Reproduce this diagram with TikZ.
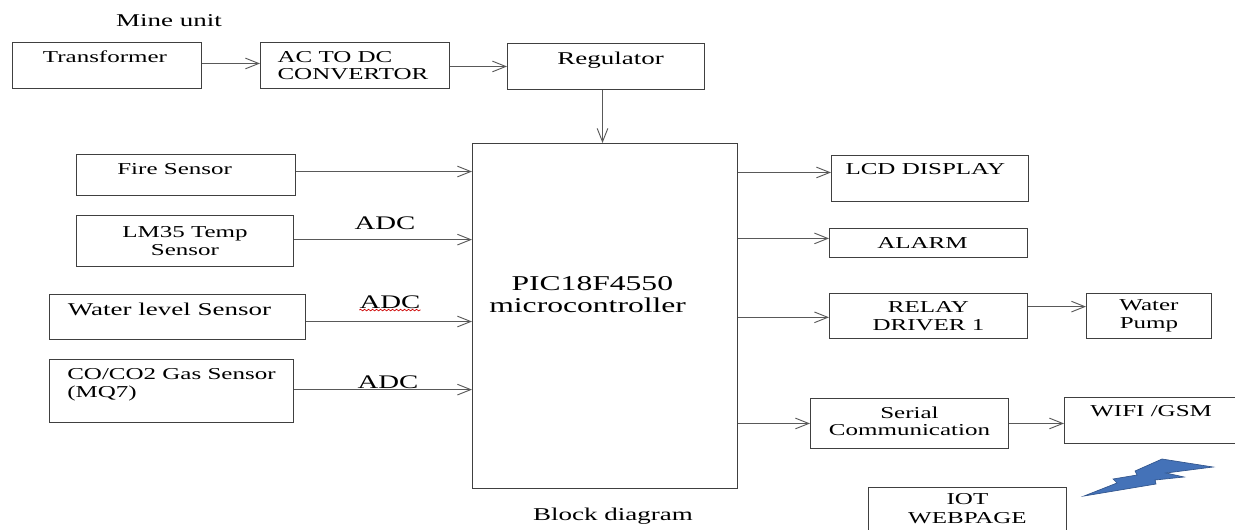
\documentclass[tikz,border=0pt]{standalone}
\usepackage{fontspec}
\setmainfont[FakeStretch=1.5]{Liberation Serif}
\definecolor{boltblue}{RGB}{68,114,184}
\definecolor{boltedge}{RGB}{50,85,140}
\usetikzlibrary{arrows.meta,decorations.pathmorphing}
\tikzset{
    every node/.style={font=\fontsize{12.5}{14}\selectfont},
    blockbox/.style={draw=black!75,line width=.7pt,inner sep=0pt,align=center,anchor=north west},
    plaintext/.style={inner sep=0pt,align=center},
    largetext/.style={font=\fontsize{13.5}{15}\selectfont},
    adctext/.style={font=\fontsize{14.4}{16}\selectfont},
    arrowline/.style={draw=black!65,line width=.7pt,-{Straight Barb[length=10pt,width=8pt]}}
}
\begin{document}
\begin{tikzpicture}[x=0.75pt,y=-0.75pt]
    \useasboundingbox (0,0) rectangle (1235,529);
    % top row
    \node[blockbox,minimum width=141.75pt,minimum height=34.5pt,text depth=14pt] (transformer) at (12,42) {Transformer\hspace*{3pt}};
    \node[blockbox,minimum width=141.75pt,minimum height=34.5pt,align=left,font=\fontsize{12.5}{13}\selectfont] (convertor) at (260,42) {AC TO DC\\CONVERTOR\hspace*{3pt}};
    \node[blockbox,minimum width=147.75pt,minimum height=34.5pt,text depth=12pt,largetext] (regulator) at (507,43) {\hspace*{7pt}Regulator};
    % sensors
    \node[blockbox,minimum width=164.25pt,minimum height=30.75pt,text depth=9pt] (fire) at (76,154) {Fire Sensor\hspace*{17pt}};
    \node[blockbox,minimum width=162.75pt,minimum height=38.25pt] (lm) at (76,215) {LM35 Temp\\Sensor};
    \node[blockbox,minimum width=192pt,minimum height=33.75pt,text depth=12pt,largetext] (water) at (49,294) {Water level Sensor\hspace*{12pt}};
    \node[blockbox,minimum width=183pt,minimum height=47.25pt,text depth=12pt,align=left] (gas) at (49,359) {CO/CO2 Gas Sensor\\(MQ7)};
    % controller
    \node[blockbox,minimum width=198.75pt,minimum height=258.75pt,text depth=32pt,font=\fontsize{15.8}{16.5}\selectfont] (pic) at (472,143) {PIC18F4550\hspace*{19pt}\\microcontroller\hspace*{26pt}};
    % outputs
    \node[blockbox,minimum width=147.75pt,minimum height=34.5pt,text depth=14pt] (lcd) at (831,155) {LCD DISPLAY\hspace*{7pt}};
    \node[blockbox,minimum width=148.5pt,minimum height=21.75pt] (alarm) at (829,228) {ALARM\hspace*{9pt}};
    \node[blockbox,minimum width=148.5pt,minimum height=33.75pt,font=\fontsize{12.5}{13}\selectfont] (relay) at (829,293) {RELAY\\DRIVER 1};
    \node[blockbox,minimum width=93.75pt,minimum height=33.75pt,font=\fontsize{12.5}{13}\selectfont] (pump) at (1086,293) {Water\\Pump};
    \node[blockbox,minimum width=148.5pt,minimum height=37.5pt,text depth=3pt,font=\fontsize{12.5}{13}\selectfont] (serial) at (810,398) {Serial\\Communication};
    \node[blockbox,minimum width=130pt,minimum height=34.5pt,text depth=14pt] (wifi) at (1064,397) {WIFI /GSM};
    \node[blockbox,minimum width=148.5pt,minimum height=32pt] (iot) at (868,487) {IOT\\WEBPAGE};
    % labels
    \node[plaintext,largetext] (mine) at (169,21) {Mine unit};
    \node[plaintext,largetext] (caption) at (613,516) {Block diagram};
    \node[plaintext,adctext] (adca) at (385,223) {ADC};
    \node[plaintext,adctext] (adcb) at (390,302) {ADC};
    \node[plaintext,adctext] (adcc) at (388,382) {ADC};
    \draw[red!80!black,line width=.5pt,decorate,decoration={snake,amplitude=.6pt,segment length=3pt}]
        ([yshift=-1pt]adcb.south west) -- ([yshift=-1pt]adcb.south east);
    % connectors
    \draw[arrowline] ([yshift=1.5pt]transformer.east) -- ([yshift=1.5pt]transformer.east -| convertor.west);
    \draw[arrowline] (convertor.east |- regulator.west) -- (regulator.west);
    \draw[arrowline] ([xshift=-2.6pt]regulator.south) -- ([xshift=-2.6pt]regulator.south |- pic.north);
    \draw[arrowline] ([yshift=2.6pt]fire.east) -- ([yshift=2.6pt]fire.east -| pic.west);
    \draw[arrowline] ([yshift=1pt]lm.east) -- ([yshift=1pt]lm.east -| pic.west);
    \draw[arrowline] ([yshift=-3.4pt]water.east) -- ([yshift=-3.4pt]water.east -| pic.west);
    \draw[arrowline] ([yshift=1pt]gas.east) -- ([yshift=1pt]gas.east -| pic.west);
    \draw[arrowline] ([yshift=4.5pt]lcd.west -| pic.east) -- ([yshift=4.5pt]lcd.west);
    \draw[arrowline] ([yshift=3.4pt]alarm.west -| pic.east) -- ([yshift=3.4pt]alarm.west);
    \draw[arrowline] ([yshift=-1pt]relay.west -| pic.east) -- ([yshift=-1pt]relay.west);
    \draw[arrowline] ([yshift=7pt]relay.east) -- ([yshift=7pt]relay.east -| pump.west);
    \draw[arrowline] (serial.west -| pic.east) -- (serial.west);
    \draw[arrowline] (serial.east) -- (serial.east -| wifi.west);
    % lightning
    \fill[fill=boltblue,draw=boltedge,line width=.5pt] (1084,496) -- (1117,483) -- (1113,479) -- (1137,475) -- (1135,471) -- (1162,459) -- (1213,467) -- (1166,473) -- (1184,477) -- (1155,480) -- (1156,484) -- (1138,487) -- cycle;
\end{tikzpicture}
\end{document}
